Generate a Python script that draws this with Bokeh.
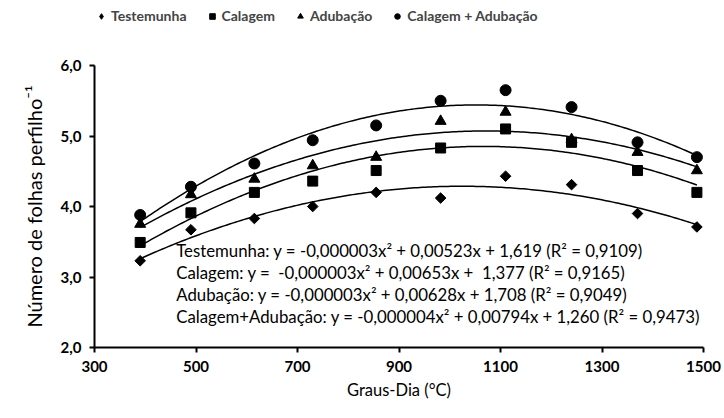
import numpy as np
from bokeh.plotting import figure
from bokeh.layouts import column
from bokeh.models import Legend, LegendItem, Label, FixedTicker
from bokeh.embed import file_html
from bokeh.resources import INLINE

# Data
graus_dia = [390, 490, 615, 730, 855, 982, 1110, 1240, 1370, 1487]
testemunha = [3.23, 3.67, 3.83, 4.00, 4.20, 4.12, 4.43, 4.31, 3.90, 3.71]
calagem = [3.49, 3.91, 4.20, 4.36, 4.51, 4.83, 5.10, 4.91, 4.51, 4.20]
adubacao = [3.75, 4.17, 4.39, 4.58, 4.70, 5.21, 5.34, 4.95, 4.77, 4.51]
calagem_adubacao = [3.88, 4.28, 4.61, 4.94, 5.15, 5.50, 5.65, 5.41, 4.91, 4.70]

series_names = ["Testemunha", "Calagem", "Adubação", "Calagem + Adubação"]
equations = [
    "Testemunha: y = -0,000003x² + 0,00523x + 1,619 (R² = 0,9109)",
    "Calagem: y =\u00a0 -0,000003x² + 0,00653x +\u00a0 1,377 (R² = 0,9165)",
    "Adubação: y = -0,000003x² + 0,00628x + 1,708 (R² = 0,9049)",
    "Calagem+Adubação: y = -0,000004x² + 0,00794x + 1,260 (R² = 0,9473)",
]
x_ticks = [300, 500, 700, 900, 1100, 1300, 1500]
y_ticks = [2, 3, 4, 5, 6]
y_tick_labels = ["2,0", "3,0", "4,0", "5,0", "6,0"]

FONT = "Lato"
all_series = [testemunha, calagem, adubacao, calagem_adubacao]
markers = [("square", np.pi / 4, 7.5), ("square", 0, 10), ("triangle", 0, 11), ("circle", 0, 11)]
legend_markers = ["diamond", "square", "triangle", "circle"]

# ---- legend strip on top (its renderers hold the data but lie outside its view) ----
top = figure(width=724, height=34, output_backend="svg", toolbar_location=None,
             x_range=(0, 1), y_range=(0, 1), min_border=0,
             x_axis_location=None, y_axis_location=None)
top.grid.grid_line_color = None
top.outline_line_color = None
items = []
for name, ys, mk in zip(series_names, all_series, legend_markers):
    r = top.scatter(graus_dia, ys, marker=mk, size=9,
                    fill_color="black", line_color="black")
    items.append(LegendItem(label=name, renderers=[r]))
legend = Legend(items=items, orientation="horizontal", location=(0, 10),
                border_line_color=None, background_fill_alpha=0,
                label_text_font=FONT, label_text_font_size="14px",
                label_text_font_style="bold",
                glyph_width=14, glyph_height=16, label_height=16,
                label_standoff=3, spacing=18, padding=2, margin=0)
top.add_layout(legend, "center")

# ---- main plot ----
p = figure(width=724, height=384, output_backend="svg", toolbar_location=None,
           x_range=(300, 1500), y_range=(2, 6),
           min_border_left=94, min_border_right=21, min_border_top=31,
           min_border_bottom=71)
p.outline_line_color = None
p.grid.grid_line_color = None
p.background_fill_color = "white"

xs = np.array(graus_dia, dtype=float)
xfit = np.linspace(xs.min(), xs.max(), 200)
for ys, (mk, ang, sz) in zip(all_series, markers):
    coef = np.polyfit(xs, np.array(ys), 2)
    p.line(xfit, np.polyval(coef, xfit), line_color="black", line_width=1.5)
    p.scatter(graus_dia, ys, marker=mk, angle=ang, size=sz,
              fill_color="black", line_color="black")

for i, eq in enumerate(equations):
    p.add_layout(Label(x=461, y=3.38 - 0.312 * i, text=eq, text_font=FONT,
                       text_font_size="16.8px", text_baseline="middle",
                       text_color="black"))

for ax in (p.xaxis[0], p.yaxis[0]):
    ax.axis_line_width = 2
    ax.axis_line_color = "black"
    ax.major_tick_line_width = 2
    ax.major_tick_line_color = "black"
    ax.major_tick_out = 5
    ax.major_tick_in = 0
    ax.minor_tick_line_color = None
    ax.major_label_text_font = FONT
    ax.major_label_text_font_size = "15px"
    ax.major_label_text_font_style = "bold"
    ax.major_label_text_color = "black"
    ax.axis_label_text_font = FONT
    ax.axis_label_text_font_style = "normal"
    ax.axis_label_text_color = "black"

p.xaxis.axis_label_text_font_size = "16.5px"
p.yaxis.axis_label_text_font_size = "20px"
p.xaxis.ticker = FixedTicker(ticks=x_ticks)
p.yaxis.ticker = FixedTicker(ticks=y_ticks)
p.yaxis.major_label_overrides = {t: l for t, l in zip(y_ticks, y_tick_labels)}
p.xaxis.axis_label = "Graus-Dia (°C)"
p.yaxis.axis_label = "Número de folhas perfilho⁻¹"
p.xaxis.major_label_standoff = 8
p.yaxis.major_label_standoff = 8
p.yaxis.axis_label_standoff = 12

layout = column(top, p, spacing=0)
open("out.html", "w").write(file_html(layout, INLINE))
